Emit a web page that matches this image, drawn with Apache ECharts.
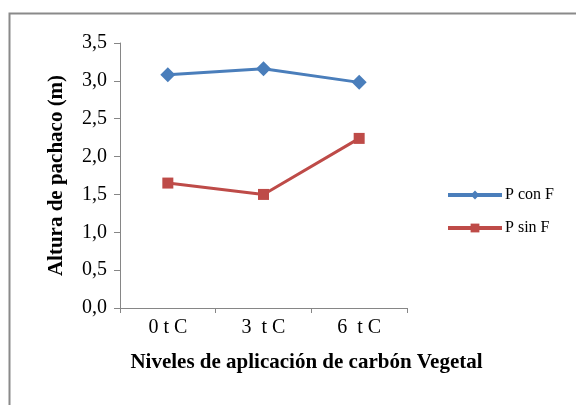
<!DOCTYPE html>
<html>
<head>
<meta charset="utf-8">
<script src="https://cdn.jsdelivr.net/npm/echarts@6/dist/echarts.min.js"></script>
<style>html,body{margin:0;padding:0;background:#fff}#c{width:576px;height:405px}</style>
</head>
<body>
<div id="c"></div>
<script>
var categories = ['0 t C', '3  t C', '6  t C'];
var pConF = [3.08, 3.16, 2.98];
var pSinF = [1.65, 1.50, 2.24];
var seriesNames = ['P con F', 'P sin F'];

var chart = echarts.init(document.getElementById('c'), null, {renderer: 'canvas'});
var serif = '"Liberation Serif", "Times New Roman", serif';
chart.setOption({
  animation: false,
  backgroundColor: '#fff',
  graphic: [{
    type: 'rect', left: 7, top: 11,
    shape: {width: 600, height: 420},
    style: {fill: 'none', stroke: '#8a8a8a', lineWidth: 2},
    silent: true
  }],
  grid: {left: 120, right: 169, top: 43, bottom: 97},
  legend: {
    orient: 'vertical', left: 441, top: 182,
    itemWidth: 54, itemHeight: 11, itemGap: 17,
    lineStyle: {width: 4},
    textStyle: {fontFamily: serif, fontSize: 16, color: '#000', padding: [0,0,0,-2]},
    data: seriesNames
  },
  xAxis: {
    type: 'category', data: categories,
    name: 'Niveles de aplicación de carbón Vegetal',
    nameLocation: 'middle', nameGap: 44,
    nameTextStyle: {fontFamily: serif, fontSize: 21, fontWeight: 'bold', color: '#000',
      padding: [0, 0, 0, 86]},
    axisLine: {lineStyle: {color: '#868686', width: 1}},
    axisTick: {show: true, length: 5, lineStyle: {color: '#868686'}},
    axisLabel: {fontFamily: serif, fontSize: 20, color: '#000', margin: 10}
  },
  yAxis: {
    type: 'value', min: 0, max: 3.5, interval: 0.5,
    name: 'Altura de pachaco (m)',
    nameLocation: 'middle', nameGap: 53, nameRotate: 90,
    nameTextStyle: {fontFamily: serif, fontSize: 21, fontWeight: 'bold', color: '#000'},
    splitLine: {show: false},
    axisLine: {show: true, lineStyle: {color: '#868686', width: 1}},
    axisTick: {show: true, length: 6, lineStyle: {color: '#868686'}},
    axisLabel: {fontFamily: serif, fontSize: 20, color: '#000', margin: 13,
      formatter: function (v) { return v.toFixed(1).replace('.', ','); }}
  },
  series: [{
    name: seriesNames[0], type: 'line', data: pConF,
    symbol: 'diamond', symbolSize: 15,
    lineStyle: {color: '#4A7EBB', width: 3},
    itemStyle: {color: '#4A7EBB'}
  }, {
    name: seriesNames[1], type: 'line', data: pSinF,
    symbol: 'rect', symbolSize: 11,
    lineStyle: {color: '#BE4B48', width: 3},
    itemStyle: {color: '#BE4B48'}
  }]
});
</script>
</body>
</html>
